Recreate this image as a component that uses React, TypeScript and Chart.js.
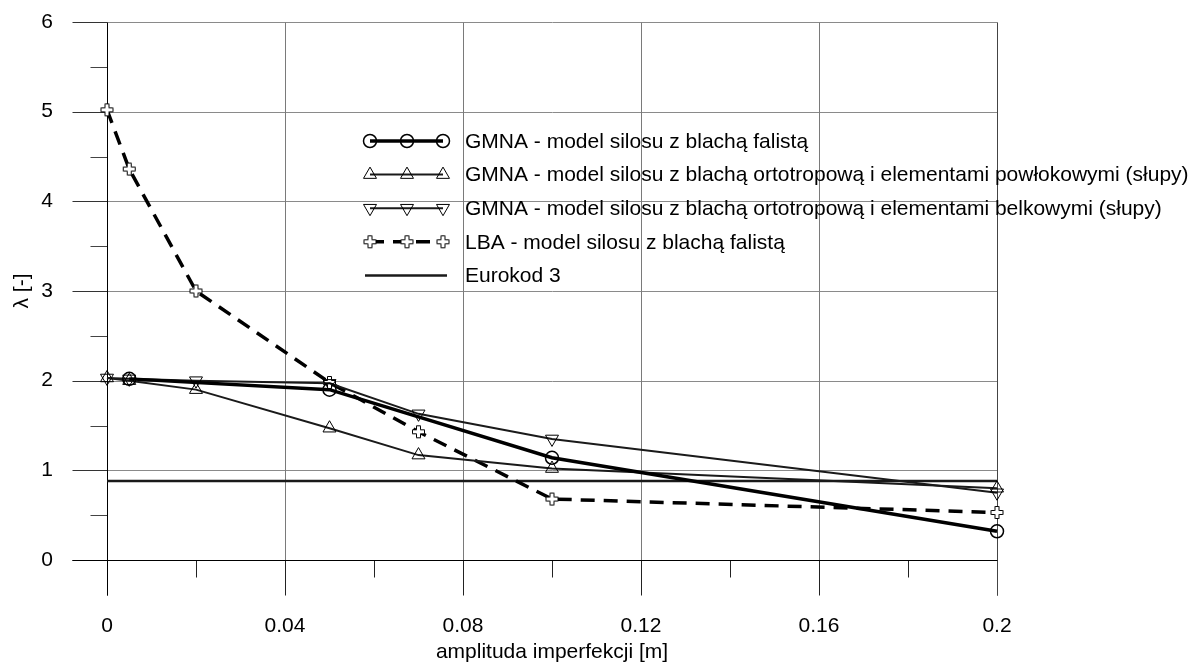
import React, { useEffect, useRef } from 'react';
import { Chart, registerables } from 'chart.js';

Chart.register(...registerables);

// ---- data ----
const xTicks = [0, 0.04, 0.08, 0.12, 0.16, 0.2];
const yTicks = [0, 1, 2, 3, 4, 5, 6];
const xCorrugated = [0.005, 0.05, 0.1, 0.2];
const gmnaCorrugated = [2.02, 1.9, 1.14, 0.32];
const xOrtho = [0, 0.005, 0.02, 0.05, 0.07, 0.1, 0.2];
const gmnaOrthoShell = [2.03, 2.0, 1.9, 1.47, 1.17, 1.02, 0.8];
const gmnaOrthoBeam = [2.03, 2.02, 2.0, 1.97, 1.63, 1.35, 0.75];
const lbaCorrugated = [5.02, 4.36, 3.0, 1.98, 1.43, 0.68, 0.53];
const eurokodX = [0, 0.2];
const eurokodValues = [0.88, 0.88];
const seriesLabels = [
  'GMNA - model silosu z blachą falistą',
  'GMNA - model silosu z blachą ortotropową i elementami powłokowymi (słupy)',
  'GMNA - model silosu z blachą ortotropową i elementami belkowymi (słupy)',
  'LBA - model silosu z blachą falistą',
  'Eurokod 3',
];
const xTitle = 'amplituda imperfekcji [m]';
const yTitle = 'λ [-]';

const FONT = '"Liberation Sans", Arial, sans-serif';
const FONT_SIZE = 21;

const pts = (xs: number[], ys: number[]) => xs.map((x, i) => ({ x, y: ys[i] }));

function makePlus(): HTMLCanvasElement {
  const c = document.createElement('canvas');
  c.width = 15;
  c.height = 15;
  const g = c.getContext('2d')!;
  const m = 7.5;
  const a = 2;
  const l = 6;
  g.beginPath();
  g.moveTo(m - a, m - l);
  g.lineTo(m + a, m - l);
  g.lineTo(m + a, m - a);
  g.lineTo(m + l, m - a);
  g.lineTo(m + l, m + a);
  g.lineTo(m + a, m + a);
  g.lineTo(m + a, m + l);
  g.lineTo(m - a, m + l);
  g.lineTo(m - a, m + a);
  g.lineTo(m - l, m + a);
  g.lineTo(m - l, m - a);
  g.lineTo(m - a, m - a);
  g.closePath();
  g.fillStyle = '#fff';
  g.fill();
  g.strokeStyle = '#000';
  g.lineWidth = 1;
  g.stroke();
  return c;
}

function tri(ctx: CanvasRenderingContext2D, x: number, y: number, r: number, rotDeg: number) {
  let rad = (rotDeg * Math.PI) / 180;
  const step = (2 * Math.PI) / 3;
  ctx.beginPath();
  ctx.moveTo(x + Math.sin(rad) * r, y - Math.cos(rad) * r);
  rad += step;
  ctx.lineTo(x + Math.sin(rad) * r, y - Math.cos(rad) * r);
  rad += step;
  ctx.lineTo(x + Math.sin(rad) * r, y - Math.cos(rad) * r);
  ctx.closePath();
  ctx.stroke();
}

const gridPlugin = {
  id: 'customGrid',
  beforeDatasetsDraw(chart: any) {
    const { ctx } = chart;
    const xs = chart.scales.x;
    const ys = chart.scales.y;
    const px = (v: number) => Math.round(xs.getPixelForValue(v)) + 0.5;
    const py = (v: number) => Math.round(ys.getPixelForValue(v)) + 0.5;
    const xMin = xTicks[0];
    const xMax = xTicks[xTicks.length - 1];
    const yMin = yTicks[0];
    const yMax = yTicks[yTicks.length - 1];
    const x0 = px(xMin), x1 = px(xMax), yT = py(yMax), yB = py(yMin);
    const major = 35, minor = 17;
    ctx.save();
    ctx.lineWidth = 1;
    const line = (ax: number, ay: number, bx: number, by: number, c: string) => {
      ctx.strokeStyle = c;
      ctx.beginPath();
      ctx.moveTo(ax, ay);
      ctx.lineTo(bx, by);
      ctx.stroke();
    };
    yTicks.forEach((v) => {
      const y = py(v);
      if (v !== yMin) line(x0, y, x1, y, '#8a8a8a');
      line(x0 - major, y, x0, y, v === yMin ? '#000' : '#333');
    });
    for (let i = 0; i < yTicks.length - 1; i++) {
      const y = py((yTicks[i] + yTicks[i + 1]) / 2);
      line(x0 - minor, y, x0, y, '#444');
    }
    xTicks.forEach((v) => {
      const x = px(v);
      if (v !== xMin && v !== xMax) line(x, yT, x, yB, '#7a7a7a');
      line(x, yB, x, yB + major, '#222');
    });
    for (let i = 0; i < xTicks.length - 1; i++) {
      const x = px((xTicks[i] + xTicks[i + 1]) / 2);
      line(x, yB, x, yB + minor, '#222');
    }
    line(x0, yT, x0, yB + major, '#000');
    line(x1, yT, x1, yB + major, '#444');
    line(x0 - major, yB, x1, yB, '#000');
    ctx.restore();
  },
  afterDraw(chart: any) {
    const { ctx } = chart;
    const a = chart.chartArea;
    const plus = chart.options.plugins.customGrid.plus;
    ctx.save();
    ctx.fillStyle = '#000';
    ctx.font = `${FONT_SIZE}px ${FONT}`;
    ctx.textAlign = 'center';
    ctx.textBaseline = 'alphabetic';
    ctx.fillText(xTitle, (a.left + a.right) / 2, 658);
    ctx.save();
    ctx.translate(22, (a.top + a.bottom) / 2);
    ctx.rotate(-Math.PI / 2);
    ctx.textBaseline = 'middle';
    ctx.fillText(yTitle, 0, 0);
    ctx.restore();

    // legend
    const lx = [370, 407, 443];
    const textX = 465;
    const rowY = (i: number) => 141 + i * 33.6;
    ctx.textAlign = 'left';
    ctx.textBaseline = 'middle';
    ctx.lineCap = 'butt';
    let y = rowY(0);
    ctx.strokeStyle = '#000';
    ctx.lineWidth = 3.5;
    ctx.beginPath(); ctx.moveTo(lx[0], y); ctx.lineTo(lx[2], y); ctx.stroke();
    ctx.lineWidth = 1.5;
    lx.forEach((x) => { ctx.beginPath(); ctx.arc(x, y, 6.5, 0, Math.PI * 2); ctx.stroke(); });
    [0, 180].forEach((rot, k) => {
      y = rowY(1 + k);
      ctx.strokeStyle = '#1a1a1a';
      ctx.lineWidth = 2;
      ctx.beginPath(); ctx.moveTo(lx[0], y); ctx.lineTo(lx[2], y); ctx.stroke();
      ctx.lineWidth = 1;
      ctx.strokeStyle = '#000';
      lx.forEach((x) => tri(ctx, x, y, 7.5, rot));
    });
    y = rowY(3);
    ctx.strokeStyle = '#000';
    ctx.lineWidth = 3.5;
    ctx.setLineDash([14, 9]);
    ctx.beginPath(); ctx.moveTo(lx[0], y); ctx.lineTo(lx[2], y); ctx.stroke();
    ctx.setLineDash([]);
    lx.forEach((x) => ctx.drawImage(plus, x - plus.width / 2, y - plus.height / 2));
    y = rowY(4);
    ctx.strokeStyle = '#1a1a1a';
    ctx.lineWidth = 2.5;
    ctx.beginPath(); ctx.moveTo(365, y); ctx.lineTo(447, y); ctx.stroke();
    ctx.fillStyle = '#000';
    ctx.font = `${FONT_SIZE}px ${FONT}`;
    seriesLabels.forEach((t, i) => ctx.fillText(t, textX, rowY(i) + 1));
    ctx.restore();
  },
};

export default function App() {
  const ref = useRef<HTMLCanvasElement | null>(null);
  useEffect(() => {
    if (!ref.current) return;
    const plus = makePlus();
    const tickFont = { family: FONT, size: FONT_SIZE };
    const chart = new Chart(ref.current, {
      type: 'line',
      data: {
        datasets: [
          {
            label: seriesLabels[0],
            data: pts(xCorrugated, gmnaCorrugated),
            borderColor: '#000',
            borderWidth: 3.5,
            pointStyle: 'circle',
            pointRadius: 6.5,
            pointBorderWidth: 1.5,
            pointBorderColor: '#000',
            pointBackgroundColor: 'rgba(255,255,255,0)',
            clip: false,
          },
          {
            label: seriesLabels[1],
            data: pts(xOrtho, gmnaOrthoShell),
            borderColor: '#1a1a1a',
            borderWidth: 2,
            pointStyle: 'triangle',
            pointRadius: 7.5,
            pointBorderWidth: 1,
            pointBorderColor: '#000',
            pointBackgroundColor: 'rgba(255,255,255,0)',
            clip: false,
          },
          {
            label: seriesLabels[2],
            data: pts(xOrtho, gmnaOrthoBeam),
            borderColor: '#1a1a1a',
            borderWidth: 2,
            pointStyle: 'triangle',
            pointRotation: 180,
            pointRadius: 7.5,
            pointBorderWidth: 1,
            pointBorderColor: '#000',
            pointBackgroundColor: 'rgba(255,255,255,0)',
            clip: false,
          },
          {
            label: seriesLabels[3],
            data: pts(xOrtho, lbaCorrugated),
            borderColor: '#000',
            borderWidth: 3.5,
            borderDash: [14, 9],
            pointStyle: plus,
            pointRadius: 7,
            clip: false,
          },
          {
            label: seriesLabels[4],
            data: pts(eurokodX, eurokodValues),
            borderColor: '#1a1a1a',
            borderWidth: 2.5,
            pointRadius: 0,
            clip: false,
          },
        ],
      },
      options: {
        animation: false,
        responsive: false,
        devicePixelRatio: 1,
        events: [],
        layout: { padding: { left: 0, top: 22, right: 203, bottom: 0 } },
        elements: { line: { tension: 0, fill: false } },
        plugins: {
          legend: { display: false },
          tooltip: { enabled: false },
          customGrid: { plus },
        } as any,
        scales: {
          x: {
            type: 'linear',
            min: 0,
            max: 0.2,
            afterBuildTicks: (s: any) => { s.ticks = xTicks.map((v) => ({ value: v })); },
            afterFit: (s: any) => {
              s.height = 102;
              s.paddingLeft = 0;
              s.paddingRight = 0;
              s.paddingTop = 0;
              s.paddingBottom = 0;
            },
            ticks: {
              autoSkip: false,
              maxRotation: 0,
              padding: 54,
              color: '#000',
              font: tickFont,
              callback: (v: any) => String(Number(Number(v).toFixed(2))),
            },
            grid: { display: false, drawTicks: false },
            border: { display: false },
          },
          y: {
            type: 'linear',
            min: 0,
            max: 6,
            afterBuildTicks: (s: any) => { s.ticks = yTicks.map((v) => ({ value: v })); },
            afterFit: (s: any) => {
              s.width = 107;
              s.paddingLeft = 0;
              s.paddingRight = 0;
              s.paddingTop = 0;
              s.paddingBottom = 0;
            },
            ticks: {
              padding: 54,
              color: '#000',
              font: tickFont,
              callback: (v: any) => String(v),
            },
            grid: { display: false, drawTicks: false },
            border: { display: false },
          },
        },
      },
      plugins: [gridPlugin],
    });
    return () => chart.destroy();
  }, []);
  return (
    <div style={{ position: 'absolute', left: 0, top: 0, width: 1200, height: 662, background: '#fff' }}>
      <canvas ref={ref} width={1200} height={662} style={{ display: 'block' }} />
    </div>
  );
}
